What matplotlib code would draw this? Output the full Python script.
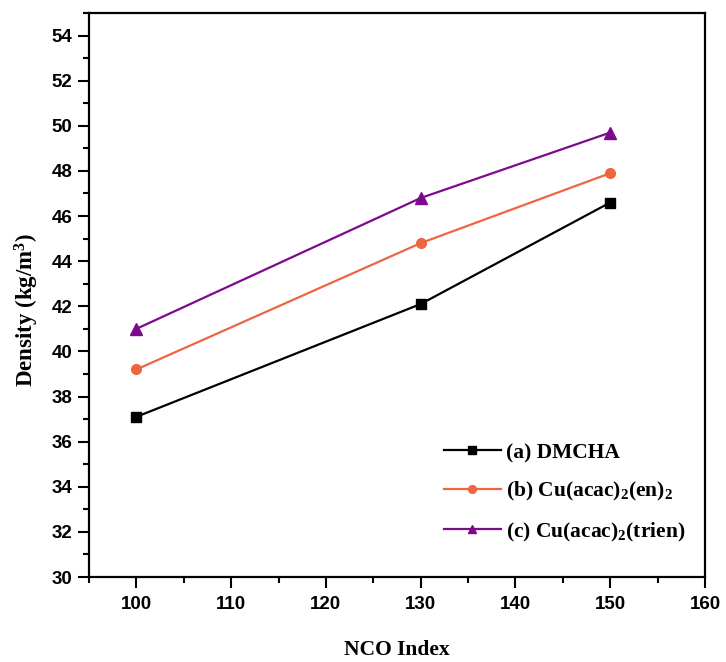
import matplotlib
matplotlib.use("Agg")
import matplotlib.pyplot as plt
from matplotlib.ticker import MultipleLocator

# Data
nco_index = [100, 130, 150]
density_dmcha = [37.1, 42.1, 46.6]
density_en = [39.2, 44.8, 47.9]
density_trien = [41.0, 46.8, 49.7]
labels = ["(a) DMCHA",
          "(b) Cu(acac)$_2$(en)$_2$",
          "(c) Cu(acac)$_2$(trien)"]
x_ticks = [100, 110, 120, 130, 140, 150, 160]
y_ticks = list(range(30, 55, 2))

plt.rcParams["mathtext.fontset"] = "custom"
plt.rcParams["mathtext.rm"] = "Liberation Serif:bold"
plt.rcParams["mathtext.it"] = "Liberation Serif:bold"
plt.rcParams["mathtext.bf"] = "Liberation Serif:bold"
plt.rcParams["mathtext.default"] = "regular"

fig = plt.figure(figsize=(7.26, 6.62), dpi=100)
ax = fig.add_axes([89 / 726, 1 - 577 / 662, (705 - 89) / 726, (577 - 13) / 662])

ax.plot(nco_index, density_dmcha, color="black", marker="s", markersize=7,
        linewidth=1.6, label=labels[0])
ax.plot(nco_index, density_en, color="#EE6640", marker="o", markersize=7,
        linewidth=1.6, label=labels[1])
ax.plot(nco_index, density_trien, color="#7D0A8C", marker="^", markersize=8,
        linewidth=1.6, label=labels[2])

ax.set_xlim(95, 160)
ax.set_ylim(30, 55)
ax.set_xticks(x_ticks)
ax.set_yticks(y_ticks)
ax.xaxis.set_minor_locator(MultipleLocator(5))
ax.yaxis.set_minor_locator(MultipleLocator(1))

for s in ax.spines.values():
    s.set_linewidth(1.6)
ax.tick_params(which="major", direction="out", length=8, width=1.5,
               top=False, right=False, pad=4)
ax.tick_params(which="minor", direction="out", length=4, width=1.5,
               top=False, right=False)
for lab in ax.get_xticklabels() + ax.get_yticklabels():
    lab.set_fontfamily("Liberation Sans")
    lab.set_fontweight("bold")
    lab.set_fontsize(13.5)
ax.tick_params(axis="x", pad=6)

ax.set_xlabel("NCO Index", fontfamily="Liberation Serif", fontweight="bold",
              fontsize=15.5, labelpad=19)
ax.set_ylabel("Density (kg/m$^3$)", fontfamily="Liberation Serif",
              fontweight="bold", fontsize=16.5)
ax.yaxis.set_label_coords(-0.078, 0.473)

leg = ax.legend(loc="lower right", bbox_to_anchor=(1.0, 0.025), frameon=False,
                prop={"family": "Liberation Serif", "weight": "bold", "size": 15.5},
                handlelength=2.65, handletextpad=0.25, labelspacing=0.8,
                markerscale=0.8)

fig.savefig("out.png", dpi=100, facecolor="white")
